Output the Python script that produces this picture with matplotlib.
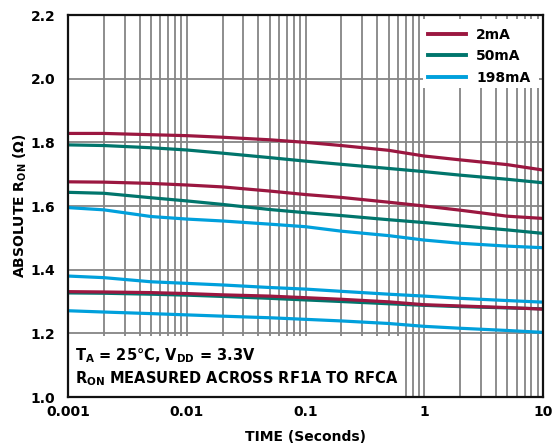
import matplotlib
matplotlib.use("Agg")
import matplotlib.pyplot as plt
from matplotlib.patches import Rectangle
import numpy as np

plt.rcParams['font.family'] = ['DejaVu Sans']
plt.rcParams['font.weight'] = 'bold'
plt.rcParams['mathtext.fontset'] = 'custom'
plt.rcParams['mathtext.rm'] = 'DejaVu Sans:bold'
plt.rcParams['mathtext.bf'] = 'DejaVu Sans:bold'

# ---- data ----
time_s = [0.001, 0.002, 0.005, 0.01, 0.02, 0.05, 0.1, 0.2, 0.5, 1, 2, 5, 10]

red_1 = [1.828, 1.828, 1.824, 1.821, 1.816, 1.808, 1.800, 1.790, 1.775, 1.757, 1.745, 1.730, 1.713]
red_2 = [1.676, 1.675, 1.671, 1.666, 1.660, 1.647, 1.636, 1.627, 1.612, 1.600, 1.587, 1.568, 1.561]
red_3 = [1.331, 1.330, 1.328, 1.325, 1.321, 1.317, 1.312, 1.307, 1.299, 1.290, 1.286, 1.281, 1.276]

teal_1 = [1.792, 1.790, 1.783, 1.776, 1.766, 1.752, 1.741, 1.731, 1.718, 1.708, 1.697, 1.684, 1.673]
teal_2 = [1.643, 1.640, 1.626, 1.616, 1.605, 1.589, 1.579, 1.570, 1.557, 1.548, 1.538, 1.525, 1.514]
teal_3 = [1.327, 1.326, 1.323, 1.320, 1.316, 1.310, 1.305, 1.300, 1.293, 1.288, 1.284, 1.280, 1.277]

blue_1 = [1.595, 1.588, 1.567, 1.559, 1.553, 1.543, 1.535, 1.521, 1.507, 1.493, 1.483, 1.474, 1.469]
blue_2 = [1.380, 1.375, 1.362, 1.357, 1.352, 1.344, 1.339, 1.332, 1.323, 1.317, 1.310, 1.303, 1.298]
blue_3 = [1.271, 1.267, 1.262, 1.258, 1.254, 1.249, 1.244, 1.239, 1.231, 1.222, 1.216, 1.209, 1.203]

legend_labels = ['2mA', '50mA', '198mA']
x_ticks = [0.001, 0.01, 0.1, 1, 10]
x_ticklabels = ['0.001', '0.01', '0.1', '1', '10']
y_ticks = [1.0, 1.2, 1.4, 1.6, 1.8, 2.0, 2.2]

RED = '#9b1740'
TEAL = '#00756c'
BLUE = '#00a0dc'

fig = plt.figure(figsize=(5.52, 4.48), dpi=100)
ax = fig.add_axes([0.1232, 0.1138, 0.8605, 0.8527])

ax.set_xscale('log')
ax.set_xlim(0.001, 10)
ax.set_ylim(1.0, 2.2)

# grid
gridc = '#858585'
for dec in [0.001, 0.01, 0.1, 1]:
    for m in range(1, 10):
        v = dec * m
        if 0.001 < v < 10:
            ax.axvline(v, color=gridc, lw=1.3, zorder=0.5)
for yv in [1.2, 1.4, 1.6, 1.8, 2.0]:
    ax.axhline(yv, color=gridc, lw=1.3, zorder=0.5)

# white boxes (legend + annotation areas)
ax.add_patch(Rectangle((0.001, 1.0), 0.65 - 0.001, 0.1915, facecolor='white',
                       edgecolor='none', zorder=1))
ax.add_patch(Rectangle((0.97, 1.970), 9.25 - 0.97, 2.187 - 1.970, facecolor='white',
                       edgecolor='none', zorder=1))

lw = 2.3
h1, = ax.plot(time_s, red_1, color=RED, lw=lw, zorder=3)
ax.plot(time_s, red_2, color=RED, lw=lw, zorder=3)
h2, = ax.plot(time_s, teal_1, color=TEAL, lw=lw, zorder=2.5)
ax.plot(time_s, teal_2, color=TEAL, lw=lw, zorder=2.5)
ax.plot(time_s, teal_3, color=TEAL, lw=lw, zorder=2.5)
ax.plot(time_s, red_3, color=RED, lw=lw, zorder=3)
h3, = ax.plot(time_s, blue_1, color=BLUE, lw=lw, zorder=2.5)
ax.plot(time_s, blue_2, color=BLUE, lw=lw, zorder=2.5)
ax.plot(time_s, blue_3, color=BLUE, lw=lw, zorder=2.5)

leg = ax.legend([h1, h2, h3], legend_labels, loc='upper right',
                bbox_to_anchor=(1.0, 1.0), frameon=False,
                handlelength=2.75, handletextpad=0.75, labelspacing=0.55,
                prop={'size': 10, 'weight': 'bold'})
for ln in leg.get_lines():
    ln.set_linewidth(2.8)

ax.set_xticks(x_ticks)
ax.set_xticklabels(x_ticklabels)
ax.xaxis.set_minor_locator(matplotlib.ticker.NullLocator())
ax.set_yticks(y_ticks)
ax.set_yticklabels([f'{v:.1f}' for v in y_ticks])
ax.tick_params(axis='both', length=0, labelsize=10)
ax.tick_params(axis='x', pad=6)
ax.tick_params(axis='y', pad=9)
for lab in ax.get_xticklabels() + ax.get_yticklabels():
    lab.set_fontweight('bold')

for sp in ax.spines.values():
    sp.set_linewidth(1.6)
    sp.set_color('#111111')
    sp.set_zorder(5)

ax.set_xlabel('TIME (Seconds)', fontsize=10, fontweight='bold', labelpad=8)
ax.set_ylabel(r'ABSOLUTE R$_{\mathrm{ON}}$ ($\Omega$)', fontsize=10,
              fontweight='bold', labelpad=1)

ax.text(0.015, 0.108, r'T$_{\mathrm{A}}$ = 25°C, V$_{\mathrm{DD}}$ = 3.3V',
        transform=ax.transAxes, fontsize=10.5, fontweight='bold',
        va='center', ha='left', zorder=6)
ax.text(0.015, 0.047, r'R$_{\mathrm{ON}}$ MEASURED ACROSS RF1A TO RFCA',
        transform=ax.transAxes, fontsize=10.5, fontweight='bold',
        va='center', ha='left', zorder=6)

fig.savefig('out.png', dpi=100)
